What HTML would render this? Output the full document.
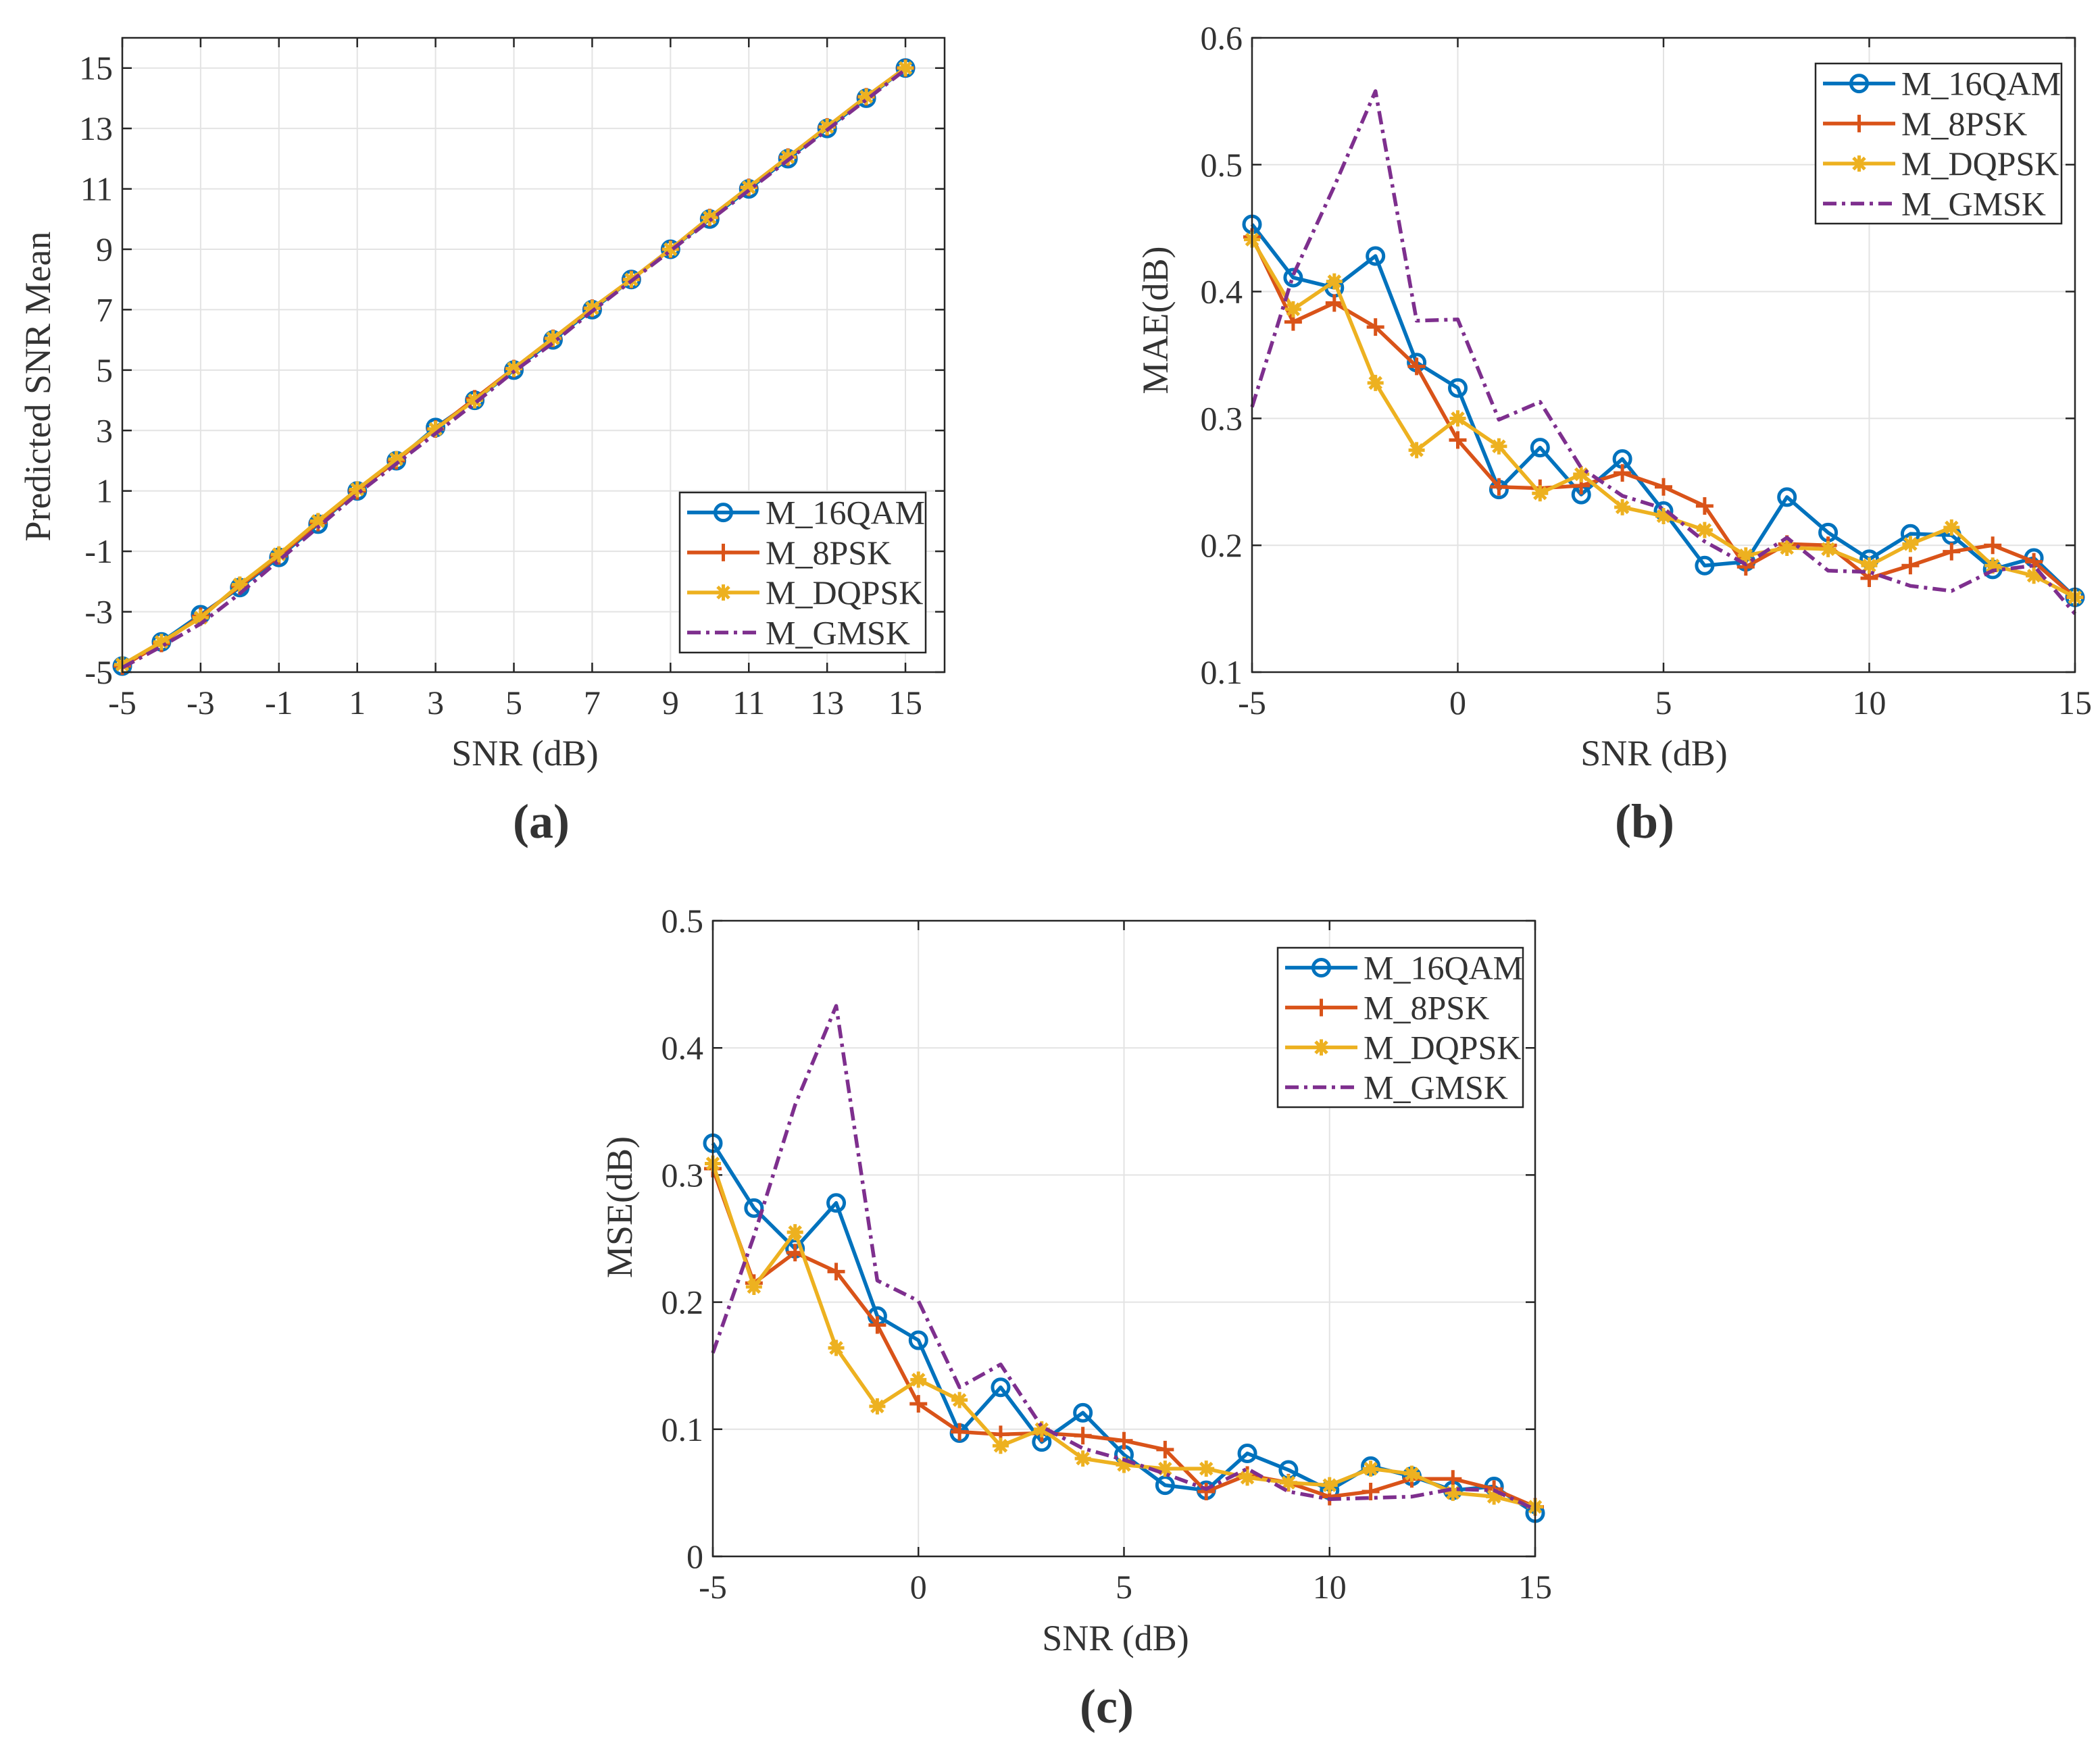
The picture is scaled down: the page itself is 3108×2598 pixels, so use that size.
<!DOCTYPE html>
<html><head><meta charset="utf-8">
<style>
html,body{margin:0;padding:0;background:#fff;}
svg{display:block;}
text{font-family:"Liberation Serif","DejaVu Serif",serif;fill:#333;}
</style></head>
<body>
<svg id="fig" width="3108" height="2598" viewBox="0 0 3108 2598" xmlns="http://www.w3.org/2000/svg">
<rect width="3108" height="2598" fill="#fff"/>
</svg>
<script>
const snr = [-5,-4,-3,-2,-1,0,1,2,3,4,5,6,7,8,9,10,11,12,13,14,15];
const seriesNames = ["M_16QAM","M_8PSK","M_DQPSK","M_GMSK"];
// (a) predicted SNR mean
const aQAM  = [-4.8,-4.0,-3.1,-2.2,-1.2,-0.1,1.0,2.0,3.1,4.0,5.0,6.0,7.0,8.0,9.0,10.0,11.0,12.0,13.0,14.0,15.0];
const aPSK  = [-4.8,-4.05,-3.15,-2.15,-1.15,-0.05,1.0,2.0,3.05,4.05,5.05,6.05,7.05,8.0,9.0,10.05,11.05,12.05,13.05,14.05,15.0];
const aDQ   = [-4.75,-4.0,-3.2,-2.1,-1.1,0.0,1.05,2.05,3.05,4.0,5.05,6.05,7.05,8.0,9.0,10.05,11.05,12.05,13.05,14.05,15.0];
const aGM   = [-4.85,-4.15,-3.4,-2.4,-1.3,-0.2,0.9,1.9,2.9,3.9,4.95,5.9,6.95,7.95,8.95,9.95,10.95,11.95,12.95,13.95,14.95];
// (b) MAE
const bQAM = [0.453,0.411,0.403,0.428,0.344,0.324,0.244,0.277,0.240,0.268,0.227,0.184,0.187,0.238,0.210,0.189,0.209,0.208,0.181,0.190,0.159];
const bPSK = [0.443,0.376,0.391,0.372,0.341,0.283,0.246,0.245,0.247,0.257,0.246,0.231,0.183,0.201,0.200,0.174,0.184,0.195,0.200,0.187,0.159];
const bDQ  = [0.441,0.386,0.408,0.328,0.275,0.300,0.278,0.241,0.256,0.230,0.223,0.212,0.192,0.198,0.197,0.184,0.201,0.214,0.184,0.176,0.159];
const bGM  = [0.309,0.413,0.483,0.558,0.377,0.378,0.299,0.313,0.261,0.239,0.229,0.203,0.185,0.206,0.180,0.179,0.168,0.164,0.180,0.184,0.146];
// (c) MSE
const cQAM = [0.325,0.274,0.242,0.278,0.189,0.170,0.097,0.133,0.090,0.113,0.080,0.056,0.052,0.081,0.068,0.052,0.071,0.063,0.052,0.055,0.034];
const cPSK = [0.305,0.215,0.239,0.224,0.182,0.120,0.098,0.096,0.097,0.095,0.091,0.084,0.051,0.064,0.058,0.047,0.051,0.061,0.061,0.053,0.039];
const cDQ  = [0.309,0.212,0.255,0.164,0.118,0.139,0.123,0.087,0.100,0.077,0.072,0.069,0.069,0.062,0.058,0.056,0.069,0.065,0.050,0.047,0.039];
const cGM  = [0.160,0.252,0.355,0.433,0.217,0.201,0.133,0.151,0.102,0.085,0.076,0.065,0.053,0.069,0.051,0.045,0.046,0.047,0.053,0.052,0.037];
const aXTicks = [-5,-3,-1,1,3,5,7,9,11,13,15];
const aYTicks = [-5,-3,-1,1,3,5,7,9,11,13,15];
const bcXTicks = [-5,0,5,10,15];
const bYTicks = [0.1,0.2,0.3,0.4,0.5,0.6];
const cYTicks = [0,0.1,0.2,0.3,0.4,0.5];

const NS="http://www.w3.org/2000/svg";
const svg=document.getElementById('fig');
const colors=["#0072BD","#D95319","#EDB120","#7E2F8E"];
function el(tag,attrs,parent){const e=document.createElementNS(NS,tag);for(const k in attrs)e.setAttribute(k,attrs[k]);(parent||svg).appendChild(e);return e;}

function marker(g,type,x,y,c){
  if(type===0){const m=el('circle',{cx:x,cy:y,r:12,fill:'none',stroke:c,'stroke-width':5},g);}
  else if(type===1){const m=el('path',{d:`M${x-13},${y}H${x+13}M${x},${y-13}V${y+13}`,stroke:c,'stroke-width':5,fill:'none'},g);}
  else if(type===2){const r=12,d=8.5;const m=el('path',{d:`M${x-r},${y}H${x+r}M${x},${y-r}V${y+r}M${x-d},${y-d}L${x+d},${y+d}M${x-d},${y+d}L${x+d},${y-d}`,stroke:c,'stroke-width':5,fill:'none'},g);}
}

function chart(o){
  const g=el('g',{});
  
  
  const sx=v=>o.L+(v-o.xmin)/(o.xmax-o.xmin)*(o.R-o.L);
  const sy=v=>o.B-(v-o.ymin)/(o.ymax-o.ymin)*(o.B-o.T);
  // grid
  o.xt.forEach(t=>{const l=el('line',{x1:sx(t),x2:sx(t),y1:o.T,y2:o.B,stroke:'#e3e3e3','stroke-width':2},g);});
  o.yt.forEach(t=>{const l=el('line',{x1:o.L,x2:o.R,y1:sy(t),y2:sy(t),stroke:'#e3e3e3','stroke-width':2},g);});
  // ticks
  o.xt.forEach(t=>{
    el('path',{d:`M${sx(t)},${o.B}v-14M${sx(t)},${o.T}v14`,stroke:'#262626','stroke-width':2.5},g);
    const tx=el('text',{x:sx(t),y:o.B+62,'text-anchor':'middle','font-size':50},g);tx.textContent=t;
    
  });
  o.yt.forEach(t=>{
    el('path',{d:`M${o.L},${sy(t)}h14M${o.R},${sy(t)}h-14`,stroke:'#262626','stroke-width':2.5},g);
    const tx=el('text',{x:o.L-14,y:sy(t)+17,'text-anchor':'end','font-size':50},g);tx.textContent=o.fmt(t);
    
  });
  // series
  o.data.forEach((arr,i)=>{
    const pts=snr.map((x,j)=>sx(x)+','+sy(arr[j])).join(' ');
    const attrs={points:pts,fill:'none',stroke:colors[i],'stroke-width':5.5,'stroke-linejoin':'round'};
    if(i===3){attrs['stroke-dasharray']='20 8 5 8';}
    const pl=el('polyline',attrs,g);
    
    
    if(i<3) snr.forEach((x,j)=>marker(g,i,sx(x),sy(arr[j]),colors[i]));
  });
  // box
  const bx=el('rect',{x:o.L,y:o.T,width:o.R-o.L,height:o.B-o.T,fill:'none',stroke:'#262626','stroke-width':2.5},g);
  
  // legend
  const lg=el('g',{},g);
  
  
  el('rect',{x:o.lg[0],y:o.lg[1],width:o.lg[2]-o.lg[0],height:o.lg[3]-o.lg[1],fill:'#fff',stroke:'#262626','stroke-width':2.5},lg);
  const step=(o.lg[3]-o.lg[1])/4;
  seriesNames.forEach((n,i)=>{
    const y=o.lg[1]+step*(i+0.5);
    const x1=o.lg[0]+11,x2=o.lg[0]+118;
    const e=el('g',{},lg);
    
    
    const a={x1:x1,x2:x2,y1:y,y2:y,stroke:colors[i],'stroke-width':5.5};
    if(i===3)a['stroke-dasharray']='20 8 5 8';
    el('line',a,e);
    if(i<3)marker(e,i,(x1+x2)/2,y,colors[i]);
    const t=el('text',{x:o.lg[0]+127,y:y+17,'font-size':50,fill:'#111'},e);t.textContent=n;
  });
  // labels
  const xl=el('text',{x:o.xlab[0],y:o.xlab[1],'text-anchor':'middle','font-size':54},g);xl.textContent='SNR (dB)';
  
  const yl=el('text',{x:0,y:0,'text-anchor':'middle','font-size':54,transform:`translate(${o.ylab[0]},${o.ylab[1]}) rotate(-90)`},g);yl.textContent=o.ytitle;
  
  const cap=el('text',{x:o.cap[0],y:o.cap[1],'text-anchor':'middle','font-size':72,'font-weight':'bold',fill:'#111'},g);cap.textContent=o.caption;
  
}

chart({name:'chart-a-predicted-snr',L:181,R:1398,T:56,B:995,xmin:-5,xmax:16,ymin:-5,ymax:16,xt:aXTicks,yt:aYTicks,fmt:t=>t,
  data:[aQAM,aPSK,aDQ,aGM],lg:[1006,729,1370,966],xlab:[777,1133],ylab:[74,572],ytitle:'Predicted SNR Mean',cap:[801,1240],caption:'(a)'});
chart({name:'chart-b-mae',L:1853,R:3071,T:56,B:995,xmin:-5,xmax:15,ymin:0.1,ymax:0.6,xt:bcXTicks,yt:bYTicks,fmt:t=>t.toFixed(1),
  data:[bQAM,bPSK,bDQ,bGM],lg:[2687,94,3051,331],xlab:[2448,1133],ylab:[1728,474],ytitle:'MAE(dB)',cap:[2434,1240],caption:'(b)'});
chart({name:'chart-c-mse',L:1055,R:2272,T:1363,B:2304,xmin:-5,xmax:15,ymin:0,ymax:0.5,xt:bcXTicks,yt:cYTicks,fmt:t=>t===0?'0':t.toFixed(1),
  data:[cQAM,cPSK,cDQ,cGM],lg:[1891,1403,2254,1639],xlab:[1651,2443],ylab:[935,1787],ytitle:'MSE(dB)',cap:[1638,2550],caption:'(c)'});
</script>
</body></html>
